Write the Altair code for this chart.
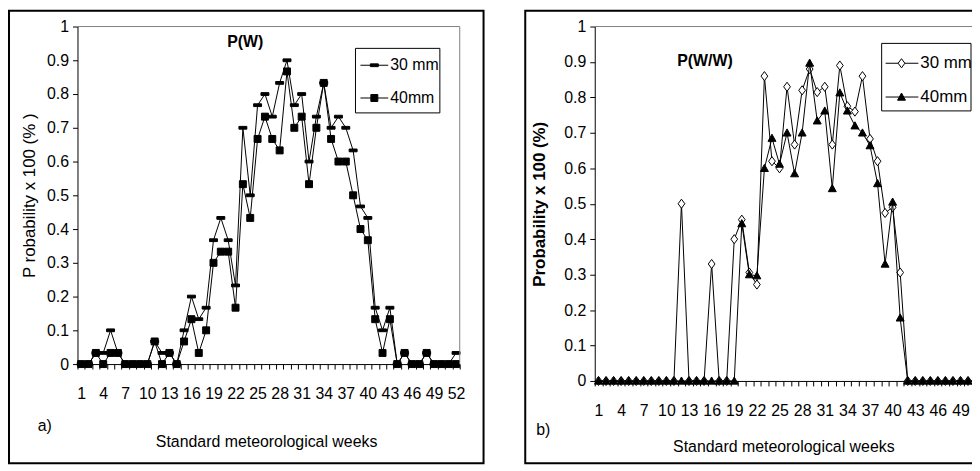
import altair as alt
import pandas as pd

# ---------------- data ----------------
weeks = list(range(1, 53))

pw_30mm = [0, 0, 0.033, 0.033, 0.1, 0.033, 0, 0, 0, 0,
           0.067, 0.033, 0.033, 0, 0.1, 0.2, 0.133, 0.167, 0.367, 0.433,
           0.367, 0.233, 0.7, 0.5, 0.767, 0.8, 0.733, 0.833, 0.9, 0.767,
           0.8, 0.6, 0.733, 0.833, 0.7, 0.733, 0.7, 0.633, 0.467, 0.433,
           0.167, 0.1, 0.167, 0, 0.033, 0, 0, 0.033, 0, 0,
           0, 0.033]
pw_40mm = [0, 0, 0.033, 0, 0.033, 0.033, 0, 0, 0, 0,
           0.067, 0, 0.033, 0, 0.067, 0.133, 0.033, 0.1, 0.3, 0.333,
           0.333, 0.167, 0.533, 0.433, 0.667, 0.733, 0.667, 0.633, 0.867, 0.7,
           0.733, 0.533, 0.7, 0.833, 0.667, 0.6, 0.6, 0.5, 0.4, 0.367,
           0.133, 0.033, 0.133, 0, 0.033, 0, 0, 0.033, 0, 0,
           0, 0]
pww_30mm = [0, 0, 0, 0, 0, 0, 0, 0, 0, 0,
            0, 0.5, 0, 0, 0, 0.33, 0, 0, 0.4, 0.455,
            0.306, 0.272, 0.86, 0.62, 0.6, 0.83, 0.667, 0.82, 0.88, 0.815,
            0.83, 0.667, 0.89, 0.775, 0.76, 0.86, 0.683, 0.62, 0.474, 0.49,
            0.306, 0, 0, 0, 0, 0, 0, 0, 0, 0,
            0, 0]
pww_40mm = [0, 0, 0, 0, 0, 0, 0, 0, 0, 0,
            0, 0, 0, 0, 0, 0, 0, 0, 0, 0.444,
            0.3, 0.297, 0.6, 0.685, 0.612, 0.7, 0.585, 0.7, 0.897, 0.734,
            0.762, 0.543, 0.813, 0.762, 0.72, 0.7, 0.664, 0.557, 0.33, 0.505,
            0.178, 0, 0, 0, 0, 0, 0, 0, 0, 0,
            0, 0]

series_names = ["30 mm", "40mm"]
y_ticks = [0, 0.1, 0.2, 0.3, 0.4, 0.5, 0.6, 0.7, 0.8, 0.9, 1]

# ---------------- styles ----------------
NARROW = "Liberation Sans Narrow, Arial Narrow, Liberation Sans, Arial, sans-serif"
SANS = "Liberation Sans, Arial, sans-serif"
GRAY = "#808080"

DASH = "M-1,-0.35L1,-0.35L1,0.35L-1,0.35Z"
DIAMOND = "M0,-1.15L0.85,0L0,1.15L-0.85,0Z"
TRI = "M0,-1L1,0.8L-1,0.8Z"


def one():
    return alt.Data(values=[{"k": 0}])


def rule(x, y, x2=None, y2=None, color="black", width=1):
    enc = dict(x=alt.value(x), y=alt.value(y))
    if x2 is not None:
        enc["x2"] = alt.value(x2)
    if y2 is not None:
        enc["y2"] = alt.value(y2)
    return alt.Chart(one()).mark_rule(color=color, strokeWidth=width).encode(**enc)


def text(t, x, y, size, font=SANS, weight="normal", align="center"):
    return alt.Chart(one()).mark_text(
        text=t, font=font, fontSize=size, fontWeight=weight, align=align,
        baseline="middle", color="black"
    ).encode(x=alt.value(x), y=alt.value(y))


def marker(shape, size, fill, x, y):
    return alt.Chart(one()).mark_point(
        shape=shape, size=size, filled=True, fill=fill, stroke="black",
        strokeWidth=1, opacity=1
    ).encode(x=alt.value(x), y=alt.value(y))


def panel(v30, v40, W, H, half, shapes, ytitle, ytitle_bold, ytitle_x,
          xtitle_x, xtitle_y, title, title_xy, tag, tag_xy, rect_x, legend):
    df = pd.concat([
        pd.DataFrame({"week": weeks, "value": v30, "series": series_names[0]}),
        pd.DataFrame({"week": weeks, "value": v40, "series": series_names[1]}),
    ])
    X = alt.X("week:Q",
              scale=alt.Scale(domain=[0.5, 52.5], nice=False, zero=False),
              axis=alt.Axis(
                  values=[k + 0.5 for k in range(53)],
                  labelExpr="(datum.value - 0.5) % 3 == 0 ? format(datum.value + 0.5, 'd') : ''",
                  labelOffset=half, labelBaseline="middle", labelPadding=25,
                  labelOverlap=False, labelFlush=False, labelBound=False,
                  labelFont=NARROW, labelFontSize=16,
                  title="Standard meteorological weeks",
                  titleFont=SANS, titleFontSize=16, titleFontWeight="normal",
                  titleX=xtitle_x, titleY=xtitle_y, titleBaseline="middle",
                  titleAlign="center"))
    Y = alt.Y("value:Q",
              scale=alt.Scale(domain=[0, 1], nice=False, zero=True),
              axis=alt.Axis(
                  values=y_ticks,
                  labelExpr="format(datum.value, '.1~f')",
                  labelPadding=4, labelFont=NARROW, labelFontSize=16,
                  title=ytitle, titleFont=SANS, titleFontSize=17,
                  titleFontWeight="bold" if ytitle_bold else "normal",
                  titleX=ytitle_x, titleY=H / 2, titleBaseline="middle",
                  titleAlign="center", titleAngle=-90))
    base = alt.Chart(df)
    layers = []
    for name, (shape, size, fill) in zip(series_names, shapes):
        sub = base.transform_filter(alt.datum.series == name)
        layers.append(sub.mark_line(color="black", strokeWidth=1).encode(x=X, y=Y))
        layers.append(sub.mark_point(shape=shape, size=size, filled=True, fill=fill,
                                     stroke="black", strokeWidth=1, opacity=1
                                     ).encode(x=X, y=Y))
    deco = [
        rule(0, 0, x2=W, color=GRAY),
        rule(W, 0, y2=H, color=GRAY),
        alt.Chart(one()).mark_rect(fillOpacity=0, stroke="black", strokeWidth=2).encode(
            x=alt.value(rect_x[0]), x2=alt.value(rect_x[1]),
            y=alt.value(-16), y2=alt.value(440)),
        text(title, title_xy[0], title_xy[1], 16, weight="bold"),
        text(tag, tag_xy[0], tag_xy[1], 16, font=NARROW, align="left"),
    ]
    # legend box
    (bx0, bx1, by0, by1), rows, (lx0, lx1, mx, tx), fs = legend
    deco.append(alt.Chart(one()).mark_rect(fill="white", stroke="black", strokeWidth=1).encode(
        x=alt.value(bx0), x2=alt.value(bx1), y=alt.value(by0), y2=alt.value(by1)))
    for name, ry, (shape, size, fill) in zip(series_names, rows, shapes):
        deco.append(rule(lx0, ry, x2=lx1))
        deco.append(marker(shape, size, fill, mx, ry))
        deco.append(text(name, tx, ry, fs, font=NARROW, align="left"))
    return alt.layer(*layers, *deco).properties(width=W, height=H)


left = panel(
    pw_30mm, pw_40mm, 385, 340, 3.7,
    shapes=[(DASH, 64, "black"), ("square", 49, "black")],
    ytitle="P robability x 100 (% )", ytitle_bold=False, ytitle_x=-48,
    xtitle_x=190, xtitle_y=78,
    title="P(W)", title_xy=(169, 16), tag="a)", tag_xy=(-40, 402),
    rect_x=(-69, 409),
    legend=((280, 365, 22, 87), (39, 72), (285, 313, 299, 315), 16),
)

right = panel(
    pww_30mm, pww_40mm, 395, 357, 3.8,
    shapes=[(DIAMOND, 64, "white"), (TRI, 64, "black")],
    ytitle="Probability x 100 (%)", ytitle_bold=True, ytitle_x=-56,
    xtitle_x=190, xtitle_y=66,
    title="P(W/W)", title_xy=(111, 35), tag="b)", tag_xy=(-59, 406),
    rect_x=(-70, 420),
    legend=((289, 379, 17, 85), (37, 71), (293, 326, 309, 328), 17),
)

# The reference is cut off at the right edge of the window: crop the canvas
# with a negative right padding so the page is exactly as wide as the window.
chart = alt.hconcat(left, right, spacing=40).properties(
    padding={"left": 0, "top": 0, "right": -41, "bottom": 0},
    background="white",
).configure_view(stroke=None).configure_axis(
    domainColor="black", tickColor="black", labelColor="black", titleColor="black",
    grid=False, tickSize=5, domainWidth=1, tickWidth=1,
)

chart.save("out.html", embed_options={"renderer": "svg", "actions": False})
